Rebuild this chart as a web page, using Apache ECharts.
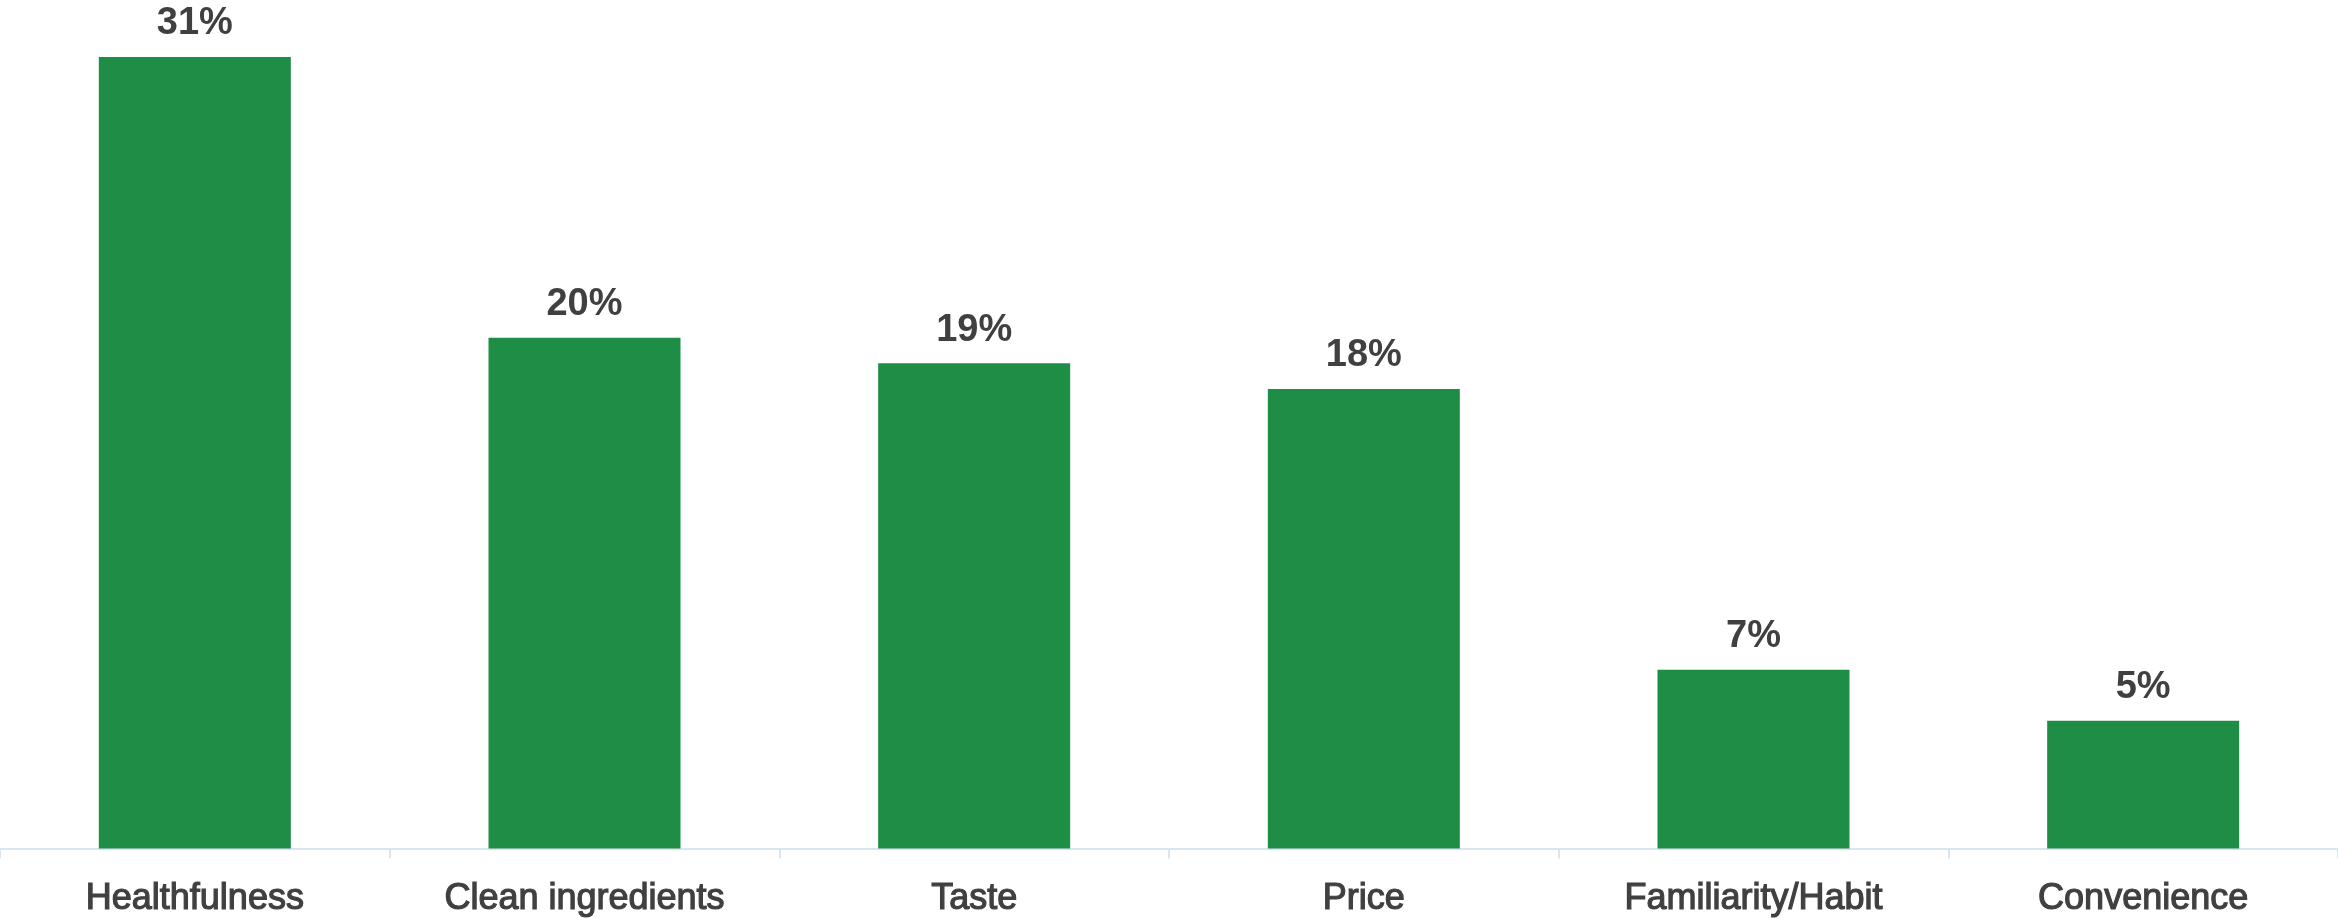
<!DOCTYPE html>
<html>
<head>
<meta charset="utf-8">
<title>Purchase drivers</title>
<script src="https://cdn.jsdelivr.net/npm/echarts@6/dist/echarts.min.js"></script>
<style>
  html, body { margin: 0; padding: 0; background: #ffffff; }
  #chart { width: 2338px; height: 918px; }
</style>
</head>
<body>
<div id="chart"></div>
<script>
// Share of respondents naming each factor as most important (%)
const categories = ['Healthfulness', 'Clean ingredients', 'Taste', 'Price', 'Familiarity/Habit', 'Convenience'];
const shares = [31, 20, 19, 18, 7, 5];

const BAR_GREEN = '#1E8E47';
const TEXT_GREY = '#404040';
const AXIS_BLUE = '#DAE5F2';

const chart = echarts.init(document.getElementById('chart'), null, { renderer: 'canvas' });

chart.setOption({
  animation: false,
  backgroundColor: '#ffffff',
  grid: { left: 0, right: 0, top: 57, bottom: 69, containLabel: false },
  xAxis: {
    type: 'category',
    data: categories,
    offset: 3,
    axisLine: { show: true, lineStyle: { color: AXIS_BLUE, width: 2 } },
    axisTick: { show: true, alignWithLabel: false, length: 10, lineStyle: { color: AXIS_BLUE, width: 2 } },
    axisLabel: {
      color: TEXT_GREY,
      fontFamily: '"Liberation Sans", Arial, sans-serif',
      fontWeight: 'normal',
      fontSize: 36,
      // a thin outline in the text colour gives the labels a medium weight
      textBorderColor: TEXT_GREY,
      textBorderWidth: 1.2,
      margin: 30,
      interval: 0
    }
  },
  yAxis: {
    type: 'value',
    min: 0,
    max: 31,
    show: false,
    splitLine: { show: false }
  },
  series: [{
    type: 'bar',
    data: shares,
    barWidth: 192,
    itemStyle: { color: BAR_GREEN },
    label: {
      show: true,
      position: 'top',
      distance: 14,
      formatter: '{c}%',
      color: TEXT_GREY,
      fontFamily: '"Liberation Sans", Arial, sans-serif',
      fontWeight: 'bold',
      fontSize: 38
    }
  }]
});
</script>
</body>
</html>
